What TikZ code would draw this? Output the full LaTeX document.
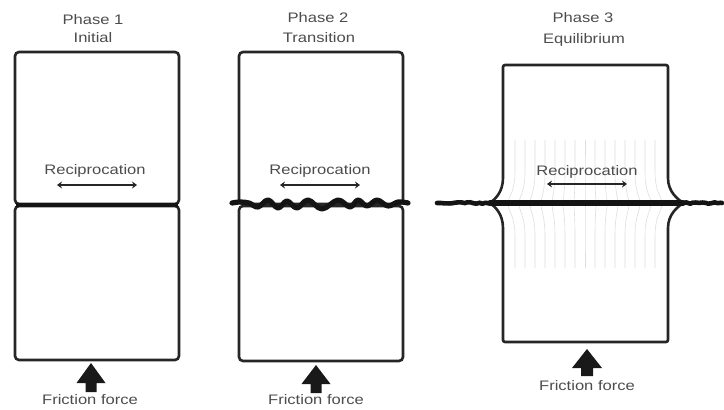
\documentclass[tikz,border=0pt]{standalone}
\usepackage{fontspec}
\setmainfont{Liberation Sans}
\newfontfamily\lblfont[FakeStretch=1.2]{Liberation Sans}
\usetikzlibrary{arrows.meta,decorations.pathmorphing}
\begin{document}
\begin{tikzpicture}[x=1pt,y=-1pt,
  lbl/.style={font=\lblfont\fontsize{13.8}{15}\selectfont,text=black!70,inner sep=0pt},
  specimen/.style={draw=black!85,line width=2.6pt,rounded corners=4pt},
  recip/.style={draw=black!85,line width=2.7pt,{Stealth[length=5pt,width=7pt]}-{Stealth[length=5pt,width=7pt]}},
  interface/.style={draw=black!92,line width=4.8pt,line cap=round,line join=round},
  flowline/.style={draw=black!13,line width=0.6pt},
  forcearrow/.style={fill=black!90,draw=none}]
\useasboundingbox (0,0) rectangle (724,410);
\pgfmathsetseed{11}

% ---------- Phase 1 : initial contact ----------
\node[lbl] (ph1) at (93,20) {Phase 1};
\node[lbl] (ph1s) at (93,38) {Initial};
\draw[specimen] (15,52) rectangle (179,204);
\draw[specimen] (15,206) rectangle (179,360);
\draw[interface,line width=4pt,line cap=butt] (16,205) -- (178,205);
\node[lbl] (rec1) at (95,171) {Reciprocation};
\coordinate (r1a) at (57,185);
\coordinate (r1b) at (137,185);
\draw[recip] (r1a) -- (r1b);
\fill[forcearrow] (91,363) -- (105.5,383) -- (96.5,383) -- (96.5,392)
  -- (85.5,392) -- (85.5,383) -- (76.5,383) -- cycle;
\node[lbl] (ff1) at (90,400) {Friction force};

% ---------- Phase 2 : transition ----------
\node[lbl] (ph2) at (318,18) {Phase 2};
\node[lbl] (ph2s) at (319,38) {Transition};
\draw[specimen] (239,52) rectangle (403,204);
\draw[specimen] (239,206) rectangle (403,361);
\draw[interface,line width=5.2pt] plot[smooth,tension=0.6] coordinates {
  (232,203) (240,202) (249,203) (258,207) (268,200) (278,208) (287,201)
  (297,208) (308,200) (322,209) (338,200) (350,207) (358,200) (367,206)
  (377,200) (388,206) (398,202) (408,203)};
\node[lbl] (rec2) at (320,171) {Reciprocation};
\coordinate (r2a) at (280,185);
\coordinate (r2b) at (360,185);
\draw[recip] (r2a) -- (r2b);
\fill[forcearrow] (316,365) -- (330.5,384) -- (321.5,384) -- (321.5,393)
  -- (310.5,393) -- (310.5,384) -- (301.5,384) -- cycle;
\node[lbl] (ff2) at (316,400) {Friction force};

% ---------- Phase 3 : equilibrium ----------
\node[lbl] (ph3) at (583,18) {Phase 3};
\node[lbl] (ph3s) at (584,40) {Equilibrium};
% plastic flow lines near the interface
\foreach \x in {515,525,...,655}{
  \pgfmathsetmacro{\d}{(\x-585)/70*7}
  \draw[flowline] (\x,140) -- (\x,172) .. controls (\x,192) and (\x+\d,198) .. (\x+\d,202);
  \draw[flowline] (\x+\d,205) .. controls (\x+\d,210) and (\x,216) .. (\x,236) -- (\x,268);
}
\draw[specimen,rounded corners=2pt] (503,176) -- (503,65) -- (668,65) -- (668,176)
  .. controls (668,192) and (678,199) .. (683,203)
  .. controls (678,207) and (668,214) .. (668,230)
  -- (668,342) -- (503,342) -- (503,230)
  .. controls (503,214) and (495,207) .. (490,203)
  .. controls (495,199) and (503,192) .. cycle;
\draw[interface,line width=4.6pt,decorate,decoration={random steps,segment length=3pt,amplitude=0.9pt}]
  (437,203) -- (492,203);
\draw[interface,line width=5.6pt] (490,203) -- (683,203);
\draw[interface,line width=4.6pt,decorate,decoration={random steps,segment length=3pt,amplitude=0.9pt}]
  (681,203) -- (722,203);
\node[lbl] (rec3) at (587,172) {Reciprocation};
\coordinate (r3a) at (547,184);
\coordinate (r3b) at (627,184);
\draw[recip] (r3a) -- (r3b);
\fill[forcearrow] (587,349) -- (602,368) -- (593,368) -- (593,376)
  -- (581,376) -- (581,368) -- (572,368) -- cycle;
\node[lbl] (ff3) at (587,386) {Friction force};
\end{tikzpicture}
\end{document}
